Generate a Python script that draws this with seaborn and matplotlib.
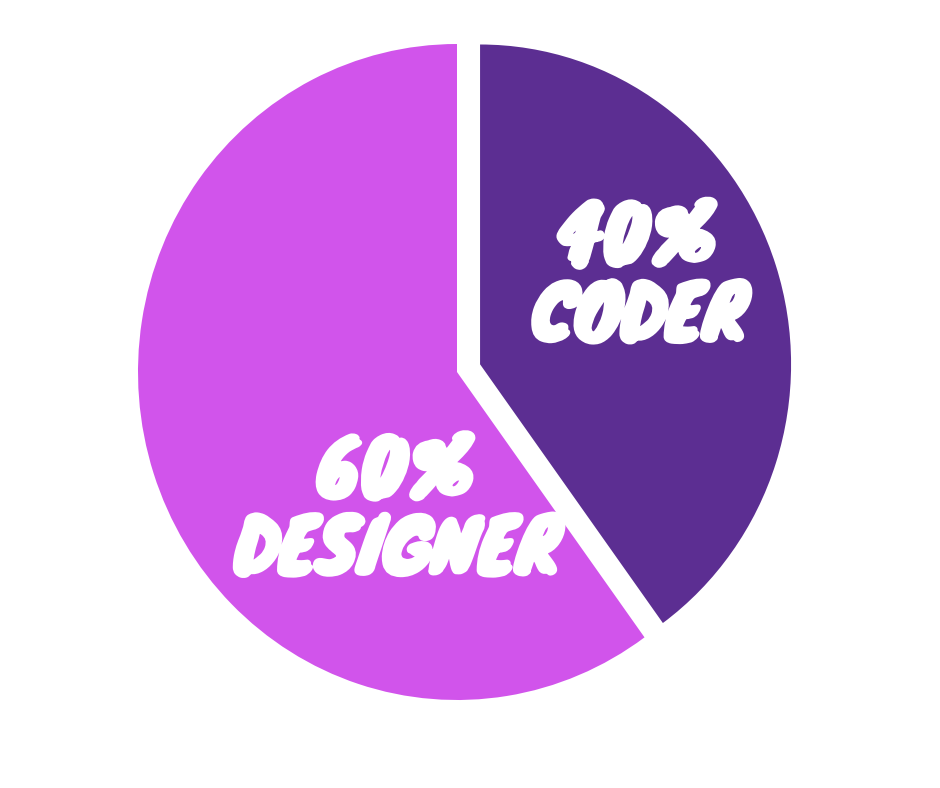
import matplotlib
matplotlib.use("Agg")
import matplotlib.pyplot as plt
import matplotlib.patheffects as pe
import seaborn as sns

# ---- data ----
categories = ["Coder", "Designer"]
shares = [40, 60]
colors = ["#5C2E92", "#D154EB"]
explode = [0.076, 0.0]
radii = [0.975, 1.0]
label_pos = [(0.571, 0.28), (-0.188, -0.432)]  # label anchor in pie-radius units

sns.set_theme(style="white")
plt.rcParams["font.family"] = ["Knewave", "DejaVu Sans"]

fig = plt.figure(figsize=(9.4, 7.88), dpi=100)
ax = fig.add_axes([0, 0, 1, 1])

wedges, _ = ax.pie(shares, colors=colors, explode=explode, startangle=90,
                   counterclock=False, radius=1.0,
                   wedgeprops=dict(linewidth=0, antialiased=True))
for w, r in zip(wedges, radii):
    w.set_radius(r)

# centre at (457, 372) px, radii 319 (x) / 328 (y)
W, H = 940, 788
cx, cy, rx, ry = 457, 372, 319, 328
ax.set_aspect("auto")
ax.set_xlim(-cx / rx, (W - cx) / rx)
ax.set_ylim(-(H - cy) / ry, cy / ry)
ax.axis("off")

for cat, v, (x, y) in zip(categories, shares, label_pos):
    ax.text(x, y, f"{v}%\n{cat.upper()}", ha="center", va="center",
            color="white", fontsize=53, linespacing=0.86,
            family=["Knewave", "DejaVu Sans"],
            path_effects=[pe.withStroke(linewidth=2.5, foreground="white")])

fig.savefig("out.png", dpi=100, facecolor="white")
